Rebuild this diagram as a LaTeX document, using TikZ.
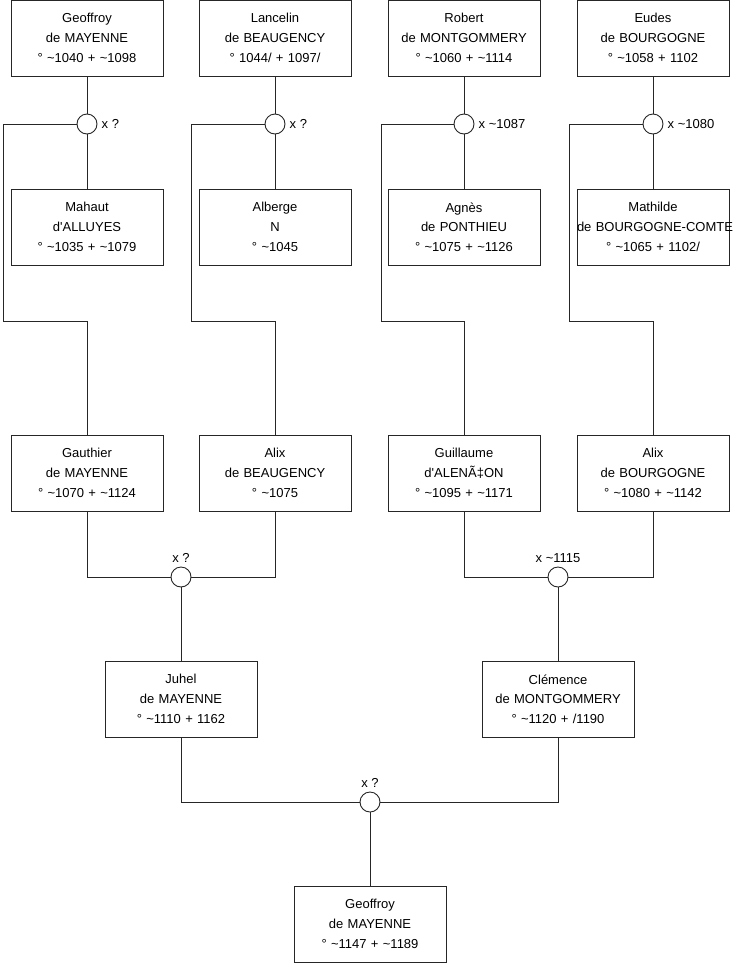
\documentclass[tikz,border=0pt]{standalone}
\usepackage{fontspec}
\setmainfont{Liberation Sans}
\newcommand{\abt}{\textasciitilde}
\newcommand{\apos}{\textquotesingle}

\begin{document}
\begin{tikzpicture}[
    x=1pt,y=-1pt,
    every node/.style={font=\fontsize{13}{19.7}\selectfont},
    person/.style={draw=black!85,line width=0.9pt,text width=152pt,minimum height=76pt,inner sep=0pt,align=center},
    wed/.style={draw=black!85,line width=0.9pt,circle,minimum size=20pt,inner sep=0pt,fill=white},
    wedlab/.style={inner sep=1pt},
    link/.style={black!85,line width=0.9pt}
  ]
  \useasboundingbox (0,0) rectangle (740,975);
  %% Grandparents, their marriages and their children
  \foreach \i/\xc/\xl/\dad/\mom/\kid/\wtxt in {
      1/87/3/{Geoffroy\\de MAYENNE\\° \abt1040 + \abt1098}/{Mahaut\\d\apos ALLUYES\\° \abt1035 + \abt1079}/{Gauthier\\de MAYENNE\\° \abt1070 + \abt1124}/{x ?},
      2/275/191/{Lancelin\\de BEAUGENCY\\° 1044/ + 1097/}/{Alberge\\N\\° \abt1045}/{Alix\\de BEAUGENCY\\° \abt1075}/{x ?},
      3/464/381/{Robert\\de MONTGOMMERY\\° \abt1060 + \abt1114}/{Agnès\\de PONTHIEU\\° \abt1075 + \abt1126}/{Guillaume\\d\apos ALENÃ‡ON\\° \abt1095 + \abt1171}/{x \abt1087},
      4/653/569/{Eudes\\de BOURGOGNE\\° \abt1058 + 1102}/{Mathilde\\\mbox{de BOURGOGNE-COMTE}\\° \abt1065 + 1102/}/{Alix\\de BOURGOGNE\\° \abt1080 + \abt1142}/{x \abt1080}
    }{
    \node[person] (fa\i) at (\xc,38) {\dad};
    \node[wed] (ma\i) at (\xc,124) {};
    \node[wedlab,anchor=west] (lb\i) at ([xshift=3pt]ma\i.east) {\wtxt};
    \node[person] (mo\i) at (\xc,227) {\mom};
    \node[person] (ch\i) at (\xc,473) {\kid};
    \coordinate (bend\i) at (\xl,321);
    \draw[link] (fa\i) -- (ma\i) -- (mo\i);
    \draw[link] (ma\i.west) -| (bend\i) -| (ch\i.north);
  }
  %% Parents
  \node[wed] (ma5) at (181,577) {};
  \node[wedlab,anchor=south] (lb5) at ([yshift=3pt]ma5.north) {x ?};
  \node[wed] (ma6) at (558,577) {};
  \node[wedlab,anchor=south] (lb6) at ([yshift=3pt]ma6.north) {x \abt1115};
  \draw[link] (ch1.south) |- (ma5.west);
  \draw[link] (ch2.south) |- (ma5.east);
  \draw[link] (ch3.south) |- (ma6.west);
  \draw[link] (ch4.south) |- (ma6.east);
  \node[person] (juhel) at (181,699) {Juhel\\de MAYENNE\\° \abt1110 + 1162};
  \node[person] (clem) at (558,699) {Clémence\\de MONTGOMMERY\\° \abt1120 + /1190};
  \draw[link] (ma5) -- (juhel);
  \draw[link] (ma6) -- (clem);
  %% Child
  \node[wed] (ma7) at (370,802) {};
  \node[wedlab,anchor=south] (lb7) at ([yshift=3pt]ma7.north) {x ?};
  \draw[link] (juhel.south) |- (ma7.west);
  \draw[link] (clem.south) |- (ma7.east);
  \node[person] (geof) at (370,924) {Geoffroy\\de MAYENNE\\° \abt1147 + \abt1189};
  \draw[link] (ma7) -- (geof);
\end{tikzpicture}
\end{document}
